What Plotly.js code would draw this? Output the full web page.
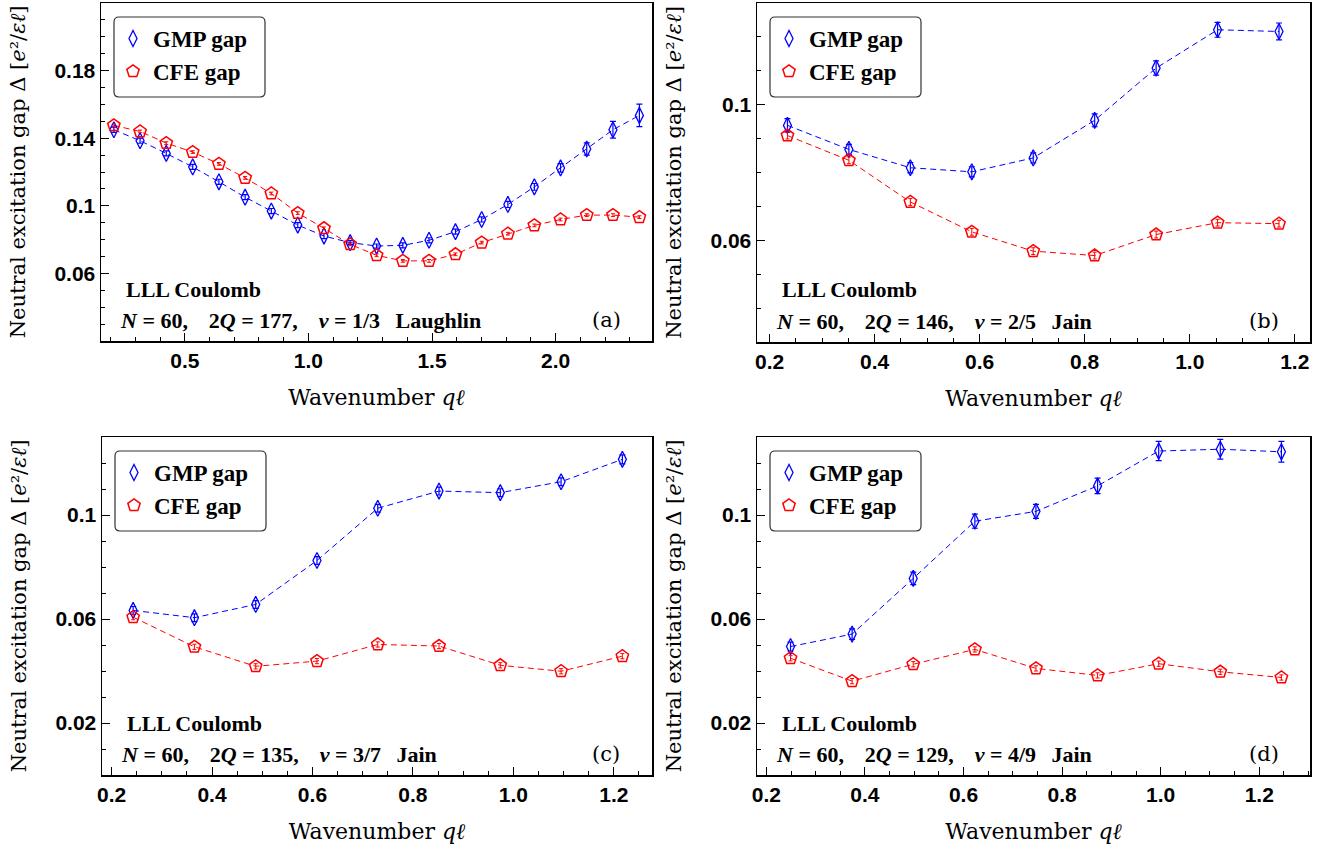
<!DOCTYPE html>
<html><head><meta charset="utf-8">
<script src="https://cdn.plot.ly/plotly-3.0.1.min.js"></script>
<style>html,body{margin:0;padding:0;background:#fff;}#chart{width:1324px;height:854px;}</style>
</head><body><div id="chart"></div>
<script>
// ---------- data ----------
// panel (a): nu=1/3 Laughlin, N=60, 2Q=177
const qA = [0.213,0.319,0.425,0.532,0.638,0.744,0.850,0.957,1.063,1.169,1.276,1.382,1.488,1.595,1.701,1.807,1.914,2.020,2.126,2.232,2.339];
const gmpA = [0.1450,0.1385,0.1310,0.1230,0.1142,0.1051,0.0969,0.0886,0.0821,0.0782,0.0762,0.0766,0.0796,0.0847,0.0919,0.1008,0.1112,0.1224,0.1336,0.1450,0.1535];
const gmpAerr = [0.0015,0.0015,0.0015,0.0015,0.0015,0.0015,0.0015,0.0015,0.0015,0.0012,0.0012,0.0015,0.0015,0.0015,0.0015,0.0018,0.0020,0.0025,0.0036,0.0050,0.0067];
const cfeA = [0.1476,0.1440,0.1371,0.1318,0.1248,0.1165,0.1073,0.0957,0.0867,0.0772,0.0707,0.0674,0.0674,0.0713,0.0782,0.0835,0.0884,0.0919,0.0945,0.0945,0.0933];
const cfeAerr = [0.0008,0.0008,0.0008,0.0008,0.0008,0.0008,0.0008,0.0008,0.0008,0.0008,0.0008,0.0008,0.0008,0.0008,0.0008,0.0008,0.0008,0.0008,0.0008,0.0008,0.0008];

// panel (b): nu=2/5 Jain, N=60, 2Q=146
const qB = [0.234,0.351,0.468,0.585,0.702,0.819,0.936,1.053,1.170];
const gmpB = [0.0939,0.0868,0.0814,0.0802,0.0843,0.0954,0.1108,0.1221,0.1216];
const gmpBerr = [0.0020,0.0015,0.0015,0.0015,0.0015,0.0019,0.0021,0.0022,0.0025];
const cfeB = [0.0909,0.0836,0.0713,0.0625,0.0568,0.0555,0.0617,0.0652,0.0649];
const cfeBerr = [0.0010,0.0010,0.0010,0.0010,0.0010,0.0010,0.0010,0.0010,0.0010];

// panel (c): nu=3/7 Jain, N=60, 2Q=135
const qC = [0.243,0.365,0.487,0.609,0.730,0.852,0.974,1.095,1.217];
const gmpC = [0.0633,0.0605,0.0656,0.0825,0.1026,0.1092,0.1086,0.1128,0.1214];
const gmpCerr = [0.0015,0.0015,0.0015,0.0015,0.0015,0.0015,0.0015,0.0015,0.0017];
const cfeC = [0.0607,0.0493,0.0418,0.0438,0.0502,0.0496,0.0422,0.0399,0.0457];
const cfeCerr = [0.0010,0.0010,0.0010,0.0010,0.0010,0.0010,0.0010,0.0010,0.0010];

// panel (d): nu=4/9 Jain, N=60, 2Q=129
const qD = [0.249,0.374,0.498,0.623,0.747,0.872,0.996,1.121,1.245];
const gmpD = [0.0494,0.0542,0.0756,0.0976,0.1014,0.1112,0.1246,0.1253,0.1243];
const gmpDerr = [0.0017,0.0020,0.0024,0.0027,0.0027,0.0030,0.0037,0.0038,0.0040];
const cfeD = [0.0449,0.0361,0.0426,0.0483,0.0410,0.0383,0.0428,0.0397,0.0375];
const cfeDerr = [0.0010,0.0010,0.0010,0.0010,0.0010,0.0010,0.0010,0.0010,0.0010];

// tick labels
const xTicksA = [0.5,1.0,1.5,2.0];
const xTickTextA = ['0.5','1.0','1.5','2.0'];
const xTicksBCD = [0.2,0.4,0.6,0.8,1.0,1.2];
const xTickTextBCD = ['0.2','0.4','0.6','0.8','1.0','1.2'];
const yTicksA = [0.06,0.10,0.14,0.18];
const yTickTextA = ['0.06','0.1','0.14','0.18'];
const yTicksB = [0.06,0.10];
const yTickTextB = ['0.06','0.1'];
const yTicksCD = [0.02,0.06,0.10];
const yTickTextCD = ['0.02','0.06','0.1'];

const xTitle = 'Wavenumber <i>qℓ</i>';
const yTitle = 'Neutral excitation gap Δ [<i>e</i>²/<i>εℓ</i>]';
const seriesNames = ['GMP gap','CFE gap'];
const NB = '\u00A0', TH = '\u2009';
const panelInfo = [
  {tag:'(a)', line1:'LLL Coulomb', nu:'1/3', twoQ:'177', kind:'Laughlin'},
  {tag:'(b)', line1:'LLL Coulomb', nu:'2/5', twoQ:'146', kind:'Jain'},
  {tag:'(c)', line1:'LLL Coulomb', nu:'3/7', twoQ:'135', kind:'Jain'},
  {tag:'(d)', line1:'LLL Coulomb', nu:'4/9', twoQ:'129', kind:'Jain'}
];
const GAP = NB + NB + NB + TH;
const line2 = info => `<i>N</i>${NB}=${NB}60,${GAP}2<i>Q</i>${NB}=${NB}${info.twoQ},${GAP}<i>ν</i>${NB}=${NB}${info.nu}${NB}${NB}${TH}${info.kind}`;

// ---------- layout geometry (pixels) ----------
const W = 1324, H = 854;
const px = v => v / W;
const py = v => 1 - v / H;
const boxes = [
  {l:101, r:652, t:3,   b:341, xr:[0.161,2.39], yr:[0.02,0.22]},
  {l:757, r:1310, t:3,  b:342, xr:[0.176,1.229], yr:[0.03,0.13]},
  {l:102, r:652, t:437, b:775, xr:[0.181,1.276], yr:[0.0,0.13]},
  {l:757, r:1310, t:437, b:775, xr:[0.181,1.303], yr:[0.0,0.13]}
];

const BLUE = 'rgb(0,0,255)', RED = 'rgb(255,0,0)';
const panels = [
  {q:qA, g:gmpA, ge:gmpAerr, c:cfeA, ce:cfeAerr, xt:xTicksA, xtt:xTickTextA, xm:0.1, yt:yTicksA, ytt:yTickTextA},
  {q:qB, g:gmpB, ge:gmpBerr, c:cfeB, ce:cfeBerr, xt:xTicksBCD, xtt:xTickTextBCD, xm:0.05, yt:yTicksB, ytt:yTickTextB},
  {q:qC, g:gmpC, ge:gmpCerr, c:cfeC, ce:cfeCerr, xt:xTicksBCD, xtt:xTickTextBCD, xm:0.05, yt:yTicksCD, ytt:yTickTextCD},
  {q:qD, g:gmpD, ge:gmpDerr, c:cfeD, ce:cfeDerr, xt:xTicksBCD, xtt:xTickTextBCD, xm:0.05, yt:yTicksCD, ytt:yTickTextCD}
];

const traces = [];
const layout = {
  width: W, height: H, margin:{l:0,r:0,t:0,b:0},
  paper_bgcolor:'#fff', plot_bgcolor:'#fff',
  showlegend:true, annotations:[], shapes:[]
};
const tickFont = {family:'Liberation Sans', size:21, weight:'bold', color:'#000'};
const titleSerif = 'DejaVu Serif';
const textSerif = 'Liberation Serif';

panels.forEach((p, i) => {
  const n = i + 1;
  const xa = n === 1 ? 'x' : 'x' + n, ya = n === 1 ? 'y' : 'y' + n;
  const lg = n === 1 ? 'legend' : 'legend' + n;
  const bx = boxes[i];
  const common = {ticks:'inside', ticklen:8, tickwidth:1, tickcolor:'#000', showline:true, linecolor:'#000',
    linewidth:1.5, mirror:true, showgrid:false, zeroline:false, tickfont:tickFont, tickmode:'array', automargin:false};
  layout['xaxis' + (n===1?'':n)] = Object.assign({}, common, {
    domain:[px(bx.l), px(bx.r)], range:bx.xr, anchor:ya, tickvals:p.xt, ticktext:p.xtt,
    title:{text:xTitle, font:{family:titleSerif, size:22, color:'#000'}, standoff:19},
    minor:{dtick:p.xm, tick0:0, ticks:'inside', ticklen:4, tickcolor:'#000', showgrid:false}
  });
  layout['yaxis' + (n===1?'':n)] = Object.assign({}, common, {
    domain:[py(bx.b), py(bx.t)], range:bx.yr, anchor:xa, tickvals:p.yt, ticktext:p.ytt,
    title:{text:yTitle, font:{family:titleSerif, size:21, color:'#000'}, standoff:23},
    minor:{dtick:0.01, tick0:0, ticks:'inside', ticklen:4, tickcolor:'#000', showgrid:false}
  });
  // dashed connecting lines
  traces.push({x:p.q, y:p.g, xaxis:xa, yaxis:ya, mode:'lines', line:{color:BLUE, width:1, dash:'6px,4px'}, showlegend:false, hoverinfo:'skip'});
  traces.push({x:p.q, y:p.c, xaxis:xa, yaxis:ya, mode:'lines', line:{color:RED, width:1, dash:'6px,4px'}, showlegend:false, hoverinfo:'skip'});
  // markers with error bars
  traces.push({x:p.q, y:p.g, xaxis:xa, yaxis:ya, mode:'markers', name:seriesNames[0], legend:lg,
    marker:{symbol:'diamond-tall-open', size:11.5, color:BLUE, line:{width:1.3, color:BLUE}},
    error_y:{type:'data', array:p.ge, visible:true, color:BLUE, thickness:1.2, width:3}});
  traces.push({x:p.q, y:p.c, xaxis:xa, yaxis:ya, mode:'markers', name:seriesNames[1], legend:lg,
    marker:{symbol:'pentagon-open', size:13, color:RED, line:{width:1.5, color:RED}},
    error_y:{type:'data', array:p.ce, visible:true, color:RED, thickness:1, width:2}});

  // legend
  layout[lg] = {x:px(bx.l + 12), y:py(bx.t + 14), xanchor:'left', yanchor:'top', bgcolor:'rgba(0,0,0,0)',
    borderwidth:0, font:{family:textSerif, size:23, weight:'bold', color:'#000'}, itemclick:false};
  // rounded legend frame
  const L = bx.l + 13, R = bx.l + 164, T = bx.t + 14, B = bx.t + 94, rr = 5;
  layout.shapes.push({type:'path', xref:'paper', yref:'paper', line:{color:'#333', width:1.2},
    path:`M ${px(L+rr)},${py(T)} L ${px(R-rr)},${py(T)} Q ${px(R)},${py(T)} ${px(R)},${py(T+rr)} L ${px(R)},${py(B-rr)} Q ${px(R)},${py(B)} ${px(R-rr)},${py(B)} L ${px(L+rr)},${py(B)} Q ${px(L)},${py(B)} ${px(L)},${py(B-rr)} L ${px(L)},${py(T+rr)} Q ${px(L)},${py(T)} ${px(L+rr)},${py(T)} Z`});

  const info = panelInfo[i];
  const f22 = {family:textSerif, size:22, weight:'bold', color:'#000'};
  layout.annotations.push({xref:'paper', yref:'paper', x:px(bx.l + 23), y:py(bx.b - 52), xanchor:'left', yanchor:'middle', showarrow:false, text:info.line1, font:f22});
  layout.annotations.push({xref:'paper', yref:'paper', x:px(bx.l + 17), y:py(bx.b - 21), xanchor:'left', yanchor:'middle', showarrow:false, text:line2(info), font:f22});
  layout.annotations.push({xref:'paper', yref:'paper', x:px(bx.r - 46), y:py(bx.b - 21), xanchor:'center', yanchor:'middle', showarrow:false, text:info.tag, font:{family:titleSerif, size:21, color:'#000'}});
});

Plotly.newPlot('chart', traces, layout, {staticPlot:true, displayModeBar:false});
</script>
</body></html>
